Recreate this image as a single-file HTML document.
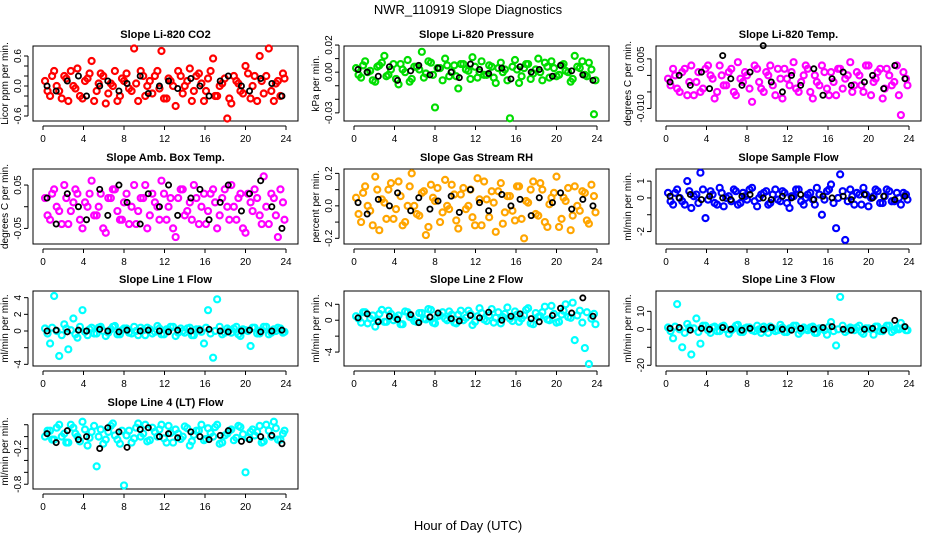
<!DOCTYPE html>
<html><head><meta charset="utf-8"><style>
html,body{margin:0;padding:0;background:#fff;}
svg{display:block;font-family:"Liberation Sans",Arial,sans-serif;}
</style></head><body>
<svg id="chart" width="936" height="540" viewBox="0 0 936 540" xmlns="http://www.w3.org/2000/svg">
<text x="468" y="14" text-anchor="middle" font-size="13">NWR_110919  Slope Diagnostics</text>
<text x="468" y="530" text-anchor="middle" font-size="13">Hour of Day (UTC)</text>
</svg>
<script>
const hours=[0.2,0.7,1.1,1.6,2.1,2.5,3.0,3.4,3.9,4.4,4.8,5.3,5.7,6.2,6.7,7.1,7.6,8.0,8.5,9.0,9.4,9.9,10.3,10.8,11.3,11.7,12.2,12.6,13.1,13.6,14.0,14.5,14.9,15.4,15.9,16.3,16.8,17.2,17.7,18.2,18.6,19.1,19.5,20.0,20.5,20.9,21.4,21.8,22.3,22.8,23.2,23.7];
const hours2=[0.45,0.9,1.35,1.85,2.3,2.75,3.2,3.65,4.15,4.6,5.05,5.5,5.95,6.45,6.9,7.35,7.8,8.25,8.75,9.2,9.65,10.1,10.55,11.05,11.5,11.95,12.4,12.85,13.35,13.8,14.25,14.7,15.15,15.65,16.1,16.55,17.0,17.45,17.95,18.4,18.85,19.3,19.75,20.25,20.7,21.15,21.6,22.05,22.55,23.0,23.45,23.85];
const blackHours=[0.4,1.3,2.4,3.5,4.3,5.6,6.4,7.5,8.3,9.6,10.4,11.5,12.4,13.3,14.6,15.5,16.4,17.5,18.3,19.6,20.4,21.5,22.6,23.6];
const xTicks=[0,4,8,12,16,20,24];

const titles=["Slope Li-820 CO2","Slope Li-820 Pressure","Slope Li-820 Temp.","Slope Amb. Box Temp.","Slope Gas Stream RH","Slope Sample Flow","Slope Line 1 Flow","Slope Line 2 Flow","Slope Line 3 Flow","Slope Line 4 (LT) Flow"];
const yTitles=["Licor ppm per min.","kPa per min.","degrees C per min.","degrees C per min.","percent per min.","ml/min per min.","ml/min per min.","ml/min per min.","ml/min per min.","ml/min per min."];
const colors=["#ff0000","#00dd00","#ff00ff","#ff00ff","#ffa500","#0000ff","#00ffff","#00ffff","#00ffff","#00ffff"];
const yDomains=[[-0.7,0.8],[-0.036,0.0193],[-0.0138,0.0089],[-0.086,0.087],[-0.235,0.227],[-2.74,1.72],[-4.2,4.8],[-5.75,3.67],[-20.4,21.3],[-0.88,0.38]];
const yTickVals=[[-0.6,-0.4,-0.2,0,0.2,0.4,0.6],[-0.03,-0.02,-0.01,0,0.01,0.02],[-0.01,-0.005,0,0.005],[-0.05,0,0.05],[-0.2,-0.1,0,0.1,0.2],[-2,-1,0,1],[-4,-2,0,2,4],[-4,-2,0,2],[-20,-10,0,10],[-0.8,-0.6,-0.4,-0.2,0,0.2]];
const yTickLabels=[["-0.6","","","0.0","","","0.6"],["-0.03","","","0.00","","0.02"],["-0.010","","","0.005"],["-0.05","","0.05"],["-0.2","","0.0","","0.2"],["-2","","0","1"],["-4","","0","2","4"],["-4","","0","2"],["-20","","0","10"],["-0.8","","","-0.2","",""]];

const co2=[0.1,-0.2,0.3,-0.1,0.2,-0.3,0.0,0.35,-0.25,0.15,0.5,-0.1,0.25,-0.35,0.05,0.3,-0.2,0.1,-0.05,0.75,-0.3,0.2,0.0,-0.15,0.3,0.7,-0.25,0.1,-0.4,0.2,0.0,0.35,-0.1,0.25,-0.3,0.15,0.55,-0.2,0.05,-0.65,-0.35,0.1,-0.1,0.4,-0.25,0.2,0.6,-0.15,0.75,-0.3,0.1,0.25];
const co2B=[-0.1,0.2,0.0,-0.25,0.15,0.3,-0.05,-0.2,0.1,0.25,-0.3,0.05,0.2,-0.15,0.0,-0.3,0.15,0.25,-0.1,0.05,0.3,-0.2,0.1,0.2,-0.05,-0.25,0.15,0.0,0.3,-0.15,0.1,-0.3,0.2,0.05,-0.1,0.3,-0.2,0.0,0.15,-0.25,0.2,0.05,-0.15,0.25,0.0,-0.3,0.1,0.2,-0.1,0.05,-0.2,0.15];
const co2Black=[0.0,-0.1,0.1,0.2,-0.2,0.0,0.1,-0.1,0.05,0.2,-0.15,0.0,0.1,-0.05,0.15,0.0,-0.2,0.1,0.2,0.0,-0.1,0.15,0.05,-0.2];
const pres=[0.003,-0.004,0.008,0.001,-0.007,0.005,0.012,-0.002,0.006,-0.009,0.002,0.009,-0.005,0.004,0.015,-0.001,0.007,-0.026,0.003,0.010,-0.003,0.005,-0.012,0.006,0.001,0.011,-0.004,0.008,-0.002,0.004,-0.008,0.007,0.002,-0.034,0.009,-0.008,0.003,0.006,-0.001,0.010,-0.006,0.004,0.008,-0.003,0.005,0.001,-0.007,0.012,0.003,-0.002,0.007,-0.031];
const presB=[-0.002,0.005,0.0,-0.006,0.004,0.007,-0.003,0.002,-0.005,0.006,0.0,-0.007,0.004,0.002,-0.004,0.008,-0.002,0.003,-0.006,0.005,0.0,-0.003,0.006,0.002,-0.005,0.004,0.0,-0.002,0.005,-0.004,0.003,0.0,-0.006,0.004,0.002,-0.003,0.006,-0.005,0.002,0.0,0.007,-0.004,0.003,-0.002,0.006,0.0,-0.005,0.004,0.008,-0.003,0.002,-0.006];
const presBlack=[0.002,0.000,-0.003,0.004,-0.006,0.001,0.005,-0.002,0.003,0.000,-0.004,0.006,0.002,-0.001,0.003,-0.005,0.004,0.000,0.002,-0.003,0.005,0.001,-0.002,-0.006];
const temp=[-0.001,0.002,-0.004,0.001,-0.006,0.003,-0.002,-0.005,0.002,0.000,-0.007,0.003,-0.003,0.001,-0.005,0.004,-0.002,0.000,-0.008,0.002,-0.004,0.001,0.003,-0.006,-0.001,0.002,-0.003,0.004,-0.005,0.000,0.002,-0.007,-0.002,0.003,-0.004,0.001,-0.006,0.002,-0.001,0.004,-0.003,0.000,-0.005,0.003,-0.002,0.001,-0.007,0.002,-0.003,0.003,-0.012,-0.001];
const tempB=[-0.003,0.000,-0.005,0.002,-0.002,-0.006,0.001,-0.004,0.003,-0.001,-0.005,0.000,-0.003,0.002,-0.006,-0.001,0.001,-0.004,0.003,-0.002,-0.005,0.000,-0.003,0.002,-0.007,-0.001,0.001,-0.004,-0.002,0.003,-0.005,0.000,-0.003,0.001,-0.006,-0.002,0.002,-0.004,0.000,-0.005,0.001,-0.003,0.003,-0.006,-0.001,0.002,-0.004,0.000,-0.002,-0.006,0.001,-0.003];
const tempBlack=[-0.002,0.000,-0.003,0.001,-0.004,0.006,-0.001,-0.003,0.001,0.009,-0.002,-0.005,0.000,-0.003,0.002,-0.006,-0.001,0.001,-0.003,-0.002,0.000,-0.004,0.003,-0.001];
const amb=[0.02,-0.03,0.04,-0.01,0.05,-0.04,0.01,0.03,-0.05,0.00,0.06,-0.02,0.03,-0.06,0.02,0.04,-0.03,0.01,-0.04,0.05,-0.01,0.02,-0.05,0.03,0.00,0.06,-0.03,0.02,-0.07,0.04,-0.02,0.01,0.05,-0.04,0.03,-0.01,0.04,-0.05,0.02,0.00,0.05,-0.03,0.03,-0.06,0.01,0.04,-0.02,0.07,-0.04,0.02,-0.07,0.01];
const ambB=[-0.02,0.03,0.0,-0.04,0.02,-0.01,0.04,-0.03,0.01,0.03,-0.02,0.0,-0.05,0.02,0.04,-0.01,-0.03,0.03,0.0,-0.04,0.02,0.05,-0.02,0.01,-0.03,0.03,0.0,-0.05,0.02,0.04,-0.01,-0.03,0.02,0.0,-0.04,0.03,0.01,-0.02,0.04,-0.03,0.0,0.02,-0.05,0.03,-0.01,0.02,-0.04,0.0,0.03,-0.02,0.04,-0.03];
const ambBlack=[0.02,-0.04,0.03,0.00,-0.03,0.04,-0.02,0.05,0.01,-0.04,0.03,0.00,0.05,-0.02,0.02,0.04,-0.03,0.01,0.05,-0.01,0.03,0.06,0.00,-0.05];
const rh=[0.05,-0.1,0.12,-0.03,0.18,-0.15,0.02,0.1,-0.08,0.15,-0.12,0.0,0.2,-0.05,0.08,-0.18,0.13,0.03,-0.1,0.16,-0.02,0.07,-0.14,0.11,0.0,-0.07,0.17,-0.12,0.04,0.09,-0.16,0.14,-0.04,0.06,-0.09,0.12,-0.2,0.02,0.15,-0.06,0.1,-0.13,0.05,0.18,-0.08,0.03,-0.15,0.12,-0.03,0.08,-0.11,0.06];
const rhB=[-0.05,0.08,0.0,-0.12,0.1,0.04,-0.08,0.14,-0.02,0.06,-0.1,0.12,0.0,-0.06,0.09,-0.13,0.05,0.11,-0.04,0.0,0.13,-0.09,0.07,-0.02,0.1,-0.12,0.04,0.15,-0.07,0.02,0.09,-0.11,0.06,-0.03,0.12,-0.08,0.03,0.1,-0.05,0.14,-0.1,0.01,0.08,-0.13,0.05,0.11,-0.06,0.0,0.09,-0.09,0.13,-0.04];
const rhBlack=[0.02,-0.05,0.04,0.0,0.08,-0.03,0.05,-0.02,0.03,0.06,-0.04,0.1,0.02,-0.03,0.07,0.0,0.04,-0.06,0.05,0.02,0.08,-0.02,0.04,0.0];
const samp=[0.3,-0.4,0.5,-0.2,1.0,-0.6,0.2,1.5,-1.2,0.4,-0.3,0.6,-0.5,0.1,0.5,-0.4,0.3,-0.1,0.6,-0.5,0.2,0.4,-0.3,0.5,-0.2,0.3,-0.6,0.1,0.5,-0.4,0.2,-0.1,0.6,-1.0,0.4,0.8,-1.8,1.4,-2.5,0.5,-0.4,0.2,0.6,-0.5,0.1,0.4,-0.3,0.5,-0.2,0.3,-0.4,0.2];
const sampB=[-0.2,0.3,0.0,-0.4,0.4,0.1,-0.3,0.5,-0.1,0.2,-0.4,0.3,0.0,-0.2,0.4,-0.3,0.1,0.5,-0.2,0.0,0.3,-0.4,0.2,-0.1,0.4,-0.3,0.1,0.5,-0.2,0.0,0.3,-0.4,0.2,-0.1,0.5,-0.3,0.0,0.4,-0.2,0.1,0.3,-0.4,0.2,0.0,0.5,-0.3,0.1,0.4,-0.2,0.0,0.3,-0.1];
const sampBlack=[0.1,0.0,0.2,-0.1,0.1,0.0,-0.1,0.1,0.2,0.0,-0.1,0.1,0.0,0.2,-0.1,0.1,0.0,0.1,-0.1,0.2,0.0,0.1,-0.1,0.1];
const line1=[0.3,-1.5,4.2,-3.0,0.8,-2.2,1.5,-0.8,2.5,-0.5,0.4,-0.3,0.5,-0.6,0.2,0.6,-0.4,0.3,-0.2,0.5,-0.5,0.1,0.4,-0.3,0.6,-0.4,0.2,0.5,-0.6,0.3,-0.2,0.4,-0.5,0.2,-1.5,2.5,-3.2,3.8,-0.4,0.3,-0.2,0.5,-0.6,0.1,-1.8,0.4,-0.3,0.5,-0.4,0.2,0.4,-0.2];
const line1B=[-0.3,0.4,0.0,-0.5,0.3,0.1,-0.4,0.5,-0.1,0.2,-0.3,0.4,0.0,-0.2,0.5,-0.4,0.1,0.3,-0.3,0.0,0.4,-0.5,0.2,-0.1,0.3,-0.4,0.1,0.5,-0.2,0.0,0.3,-0.5,0.2,-0.1,0.4,-0.3,0.0,0.5,-0.2,0.1,0.3,-0.4,0.2,0.0,0.4,-0.3,0.1,0.5,-0.2,0.0,0.3,-0.1];
const line1Black=[0.0,0.1,-0.1,0.1,0.0,0.2,0.0,-0.1,0.1,0.0,0.1,0.0,-0.1,0.1,0.0,0.1,0.2,0.0,-0.1,0.0,0.1,-0.1,0.0,0.1];
const line2=[0.5,-0.3,1.0,0.2,-0.8,0.8,-0.2,1.2,0.0,0.6,-0.5,1.0,0.3,-0.2,0.9,0.1,1.3,-0.4,0.6,0.2,1.1,-0.3,0.7,0.0,1.2,-0.6,0.5,0.9,-0.1,1.4,0.3,-0.4,0.8,0.2,1.1,-0.2,0.6,1.5,-0.5,0.4,1.0,0.1,1.8,-0.3,0.7,2.0,0.3,-2.5,1.2,-3.5,-5.5,0.8];
const line2B=[0.2,1.0,-0.4,0.6,0.0,1.3,-0.2,0.8,0.3,-0.5,1.1,0.4,-0.1,0.9,0.2,1.4,-0.3,0.5,1.0,0.0,0.7,-0.4,1.2,0.3,0.8,-0.2,1.5,0.1,0.6,-0.3,1.0,0.4,1.6,-0.1,0.7,0.2,1.3,-0.4,0.9,0.5,1.7,0.0,0.8,-0.2,1.2,0.4,2.2,0.6,-0.3,1.0,0.2,-0.5];
const line2Black=[0.3,0.8,-0.2,0.5,0.1,0.7,-0.3,0.4,0.9,0.2,-0.1,0.6,0.3,1.0,0.0,0.5,0.8,0.2,-0.2,0.6,1.5,0.9,2.8,0.5];
const line3=[1.0,-5.0,14.0,-10.0,3.0,-14.0,6.0,-8.0,2.0,-2.0,1.5,-1.0,2.0,-2.5,0.5,2.5,-1.5,1.0,-0.5,2.0,-2.0,0.5,1.5,-1.0,2.5,-1.5,0.5,2.0,-2.5,1.0,-0.5,1.5,-2.0,0.5,-3.0,4.0,-9.0,18.0,-1.5,1.0,-0.5,2.0,-2.5,0.5,-3.0,1.5,-1.0,2.0,-1.5,0.5,3.5,-0.5];
const line3B=[-1.0,1.5,0.0,-2.0,1.0,0.5,-1.5,2.0,-0.5,1.0,-1.0,1.5,0.0,-0.5,2.0,-1.5,0.5,1.0,-1.0,0.0,1.5,-2.0,0.5,-0.5,1.0,-1.5,0.5,2.0,-1.0,0.0,1.0,-2.0,0.5,-0.5,1.5,-1.0,0.0,2.0,-0.5,0.5,1.0,-1.5,0.5,0.0,1.5,-1.0,0.5,2.0,-0.5,0.0,1.0,-0.5];
const line3Black=[0.5,1.0,-0.5,0.5,0.0,1.0,0.0,-0.5,0.5,0.0,1.0,0.0,-0.5,0.5,0.0,1.0,1.5,0.0,-0.5,0.0,0.5,-0.5,5.0,1.5];
const line4=[0.0,0.1,-0.05,0.2,0.05,-0.1,0.15,0.0,0.25,-0.15,0.08,-0.5,0.12,-0.05,0.18,0.02,-0.12,-0.82,0.1,-0.03,0.22,0.05,-0.08,0.15,0.0,0.2,-0.1,0.06,0.12,-0.04,0.17,-0.15,0.03,0.1,-0.06,0.14,0.0,0.2,-0.1,0.05,0.12,-0.02,0.16,-0.6,0.08,0.02,0.18,-0.08,0.1,0.25,-0.05,0.05];
const line4B=[0.1,-0.05,0.15,0.0,-0.1,0.2,0.05,-0.08,0.12,-0.02,0.18,0.0,-0.12,0.08,0.22,-0.05,0.1,0.02,-0.1,0.15,0.0,0.2,-0.06,0.08,0.12,-0.03,0.18,-0.1,0.05,0.0,0.14,-0.08,0.1,0.2,-0.04,0.06,0.16,-0.12,0.02,0.1,-0.06,0.18,0.04,-0.02,0.12,0.08,-0.1,0.2,0.0,0.14,-0.05,0.1];
const line4Black=[0.05,-0.1,0.1,-0.05,0.0,-0.2,0.15,0.08,-0.18,0.12,0.15,0.0,0.05,-0.02,0.08,0.0,-0.05,0.02,0.1,-0.08,-0.05,0.0,0.02,-0.12];

const series=[co2,pres,temp,amb,rh,samp,line1,line2,line3,line4];
const series2=[co2B,presB,tempB,ambB,rhB,sampB,line1B,line2B,line3B,line4B];
const blackSeries=[co2Black,presBlack,tempBlack,ambBlack,rhBlack,sampBlack,line1Black,line2Black,line3Black,line4Black];
const panelKeys=["co2","pressure","temp","amb-box-temp","gas-rh","sample-flow","line1-flow","line2-flow","line3-flow","line4-flow"];

const NS="http://www.w3.org/2000/svg";
const svg=document.getElementById("chart");
const colBox=[[33,298],[344,609],[656,921]];
const rowBox=[[46,121],[169,244],[291,366],[414,489]];
function mk(tag,attrs,parent){const e=document.createElementNS(NS,tag);for(const k in attrs)e.setAttribute(k,attrs[k]);parent.appendChild(e);return e;}

series.forEach((vals,i)=>{
  const col=i%3,row=Math.floor(i/3);
  const [bx0,bx1]=colBox[col],[by0,by1]=rowBox[row];
  const x0=bx0+10,x24=bx1-12;
  const xs=h=>x0+(x24-x0)*h/24;
  const [dmin,dmax]=yDomains[i];
  const ys=v=>by1-(v-dmin)/(dmax-dmin)*(by1-by0);
  const g=mk("g",{},svg);
  
  
  const t=mk("text",{x:(bx0+bx1)/2,y:by0-8,"text-anchor":"middle","font-size":"11","font-weight":"bold"},g);
  t.textContent=titles[i];
  
  
  const box=mk("rect",{x:bx0,y:by0,width:bx1-bx0,height:by1-by0,fill:"none",stroke:"#000","stroke-width":"1"},g);
  
  
  const xa=mk("g",{},g);
  
  
  mk("line",{x1:xs(0),x2:xs(24),y1:by1+5,y2:by1+5,stroke:"#000"},xa);
  xTicks.forEach(h=>{
    mk("line",{x1:xs(h),x2:xs(h),y1:by1+5,y2:by1+9,stroke:"#000"},xa);
    const tl=mk("text",{x:xs(h),y:by1+21,"text-anchor":"middle","font-size":"10"},xa);
    tl.textContent=h;
    
    
  });
  const ya=mk("g",{},g);
  
  
  const tv=yTickVals[i];
  mk("line",{x1:bx0-5,x2:bx0-5,y1:ys(tv[0]),y2:ys(tv[tv.length-1]),stroke:"#000"},ya);
  tv.forEach((v,k)=>{
    mk("line",{x1:bx0-9,x2:bx0-5,y1:ys(v),y2:ys(v),stroke:"#000"},ya);
    const lab=yTickLabels[i][k];
    if(lab){
      const tl=mk("text",{x:bx0-12,y:ys(v),"text-anchor":"middle","font-size":"10",transform:`rotate(-90 ${bx0-12} ${ys(v)})`},ya);
      tl.textContent=lab;
      
      
    }
  });
  const yt=mk("text",{x:bx0-25,y:(by0+by1)/2,"text-anchor":"middle","font-size":"10",transform:`rotate(-90 ${bx0-25} ${(by0+by1)/2})`},ya);
  yt.textContent=yTitles[i];
  
  
  const pc=mk("g",{},g);
  
  
  vals.forEach((v,k)=>{
    const c=mk("circle",{cx:xs(hours[k]),cy:ys(v),r:"3",fill:"none",stroke:colors[i],"stroke-width":"2.2"},pc);
    
    
  });
  series2[i].forEach((v,k)=>{
    const c=mk("circle",{cx:xs(hours2[k]),cy:ys(v),r:"3",fill:"none",stroke:colors[i],"stroke-width":"2.2"},pc);
    
    
  });
  const pb=mk("g",{},g);
  
  
  blackSeries[i].forEach((v,k)=>{
    const c=mk("circle",{cx:xs(blackHours[k]),cy:ys(v),r:"2.6",fill:"none",stroke:"#000","stroke-width":"1.8"},pb);
    
    
  });
});
</script>
</body></html>
